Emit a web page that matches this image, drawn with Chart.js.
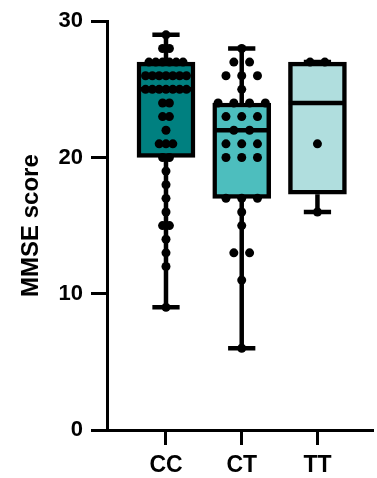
<!DOCTYPE html>
<html><head><meta charset="utf-8">
<script src="https://cdn.jsdelivr.net/npm/chart.js@4"></script>
<style>html,body{margin:0;padding:0;background:#fff}</style>
</head><body>
<canvas id="c" width="377" height="478"></canvas>
<script>
const categories = ['CC', 'CT', 'TT'];
const boxMin    = [9, 6, 16];
const boxQ1     = [20, 17, 17.3];
const boxMedian = [25, 22, 24];
const boxQ3     = [27, 24, 27];
const boxMax    = [29, 28, 27];
const ccScores = [29, 28, 28, 27, 27, 27, 27, 27, 27, 26, 26, 26, 26, 26, 26, 26,
  25, 25, 25, 25, 25, 25, 25, 24, 24, 23, 23, 22, 21, 21, 21, 20, 20, 19, 18, 17, 16,
  15, 15, 14, 13, 12, 9];
const ctScores = [28, 27, 27, 26, 26, 26, 25, 24, 24, 24, 24, 23, 23, 23, 22, 22, 21, 21, 21,
  20, 20, 20, 17, 17, 17, 16, 15, 13, 13, 11, 6];
const ttScores = [27, 27, 21, 16];
const yTicks = [0, 10, 20, 30];

const groupScores = [ccScores, ctScores, ttScores];
const fills = ['#008080', '#4DBEBE', '#B0DEDE'];
const dotSpacing = [0.09, 0.208, 0.195]; // in category units
const halfBox = 0.377, halfCap = 0.18;
const LW = 4.5;

const datasets = [];
datasets.push({
  type: 'bar',
  data: categories.map((c, i) => ({ x: i + 1, y: [boxQ1[i], boxQ3[i]] })),
  backgroundColor: fills,
  borderColor: '#000',
  borderWidth: LW,
  borderSkipped: false,
  barThickness: 58,
  order: 5
});
function seg(pts, order) {
  datasets.push({
    type: 'scatter', data: pts, showLine: true, borderColor: '#000', borderWidth: LW,
    pointRadius: 0, borderCapStyle: 'butt', order: order, spanGaps: false
  });
}
categories.forEach((c, i) => {
  const x = i + 1;
  seg([{ x: x, y: boxMin[i] }, { x: x, y: boxQ1[i] }], 6);
  seg([{ x: x, y: boxQ3[i] }, { x: x, y: boxMax[i] }], 6);
  seg([{ x: x - halfCap, y: boxMin[i] }, { x: x + halfCap, y: boxMin[i] }], 6);
  seg([{ x: x - halfCap, y: boxMax[i] }, { x: x + halfCap, y: boxMax[i] }], 6);
  seg([{ x: x - halfBox, y: boxMedian[i] }, { x: x + halfBox, y: boxMedian[i] }], 3);
  const counts = {};
  groupScores[i].forEach(v => counts[v] = (counts[v] || 0) + 1);
  const pts = [];
  Object.keys(counts).forEach(k => {
    const n = counts[k];
    for (let j = 0; j < n; j++) {
      pts.push({ x: x + (j - (n - 1) / 2) * dotSpacing[i], y: +k });
    }
  });
  datasets.push({
    type: 'scatter', data: pts, pointRadius: 4.5, pointBackgroundColor: '#000',
    pointBorderWidth: 0, borderWidth: 0, showLine: false, order: 1
  });
});

const fontFam = 'Arial, "Liberation Sans", sans-serif';
new Chart(document.getElementById('c'), {
  data: { datasets },
  options: {
    responsive: false,
    animation: false,
    events: [],
    layout: { padding: { top: 21, right: 0, left: 0, bottom: 0 } },
    plugins: { legend: { display: false }, tooltip: { enabled: false } },
    scales: {
      x: {
        type: 'linear', min: 0.221, max: 3.727, offset: false,
        afterBuildTicks: s => { s.ticks = categories.map((c, i) => ({ value: i + 1 })); },
        afterFit: s => { s.height = 48; },
        ticks: {
          callback: v => categories[Math.round(v) - 1] || '',
          color: '#000', padding: 7,
          font: { family: fontFam, size: 23, weight: 'bold' }, maxRotation: 0, autoSkip: false
        },
        grid: { display: true, offset: false, drawOnChartArea: false, drawTicks: true, tickLength: 15, lineWidth: 3, color: '#000' },
        border: { display: true, width: 3, color: '#000' }
      },
      y: {
        type: 'linear', min: 0, max: 30,
        afterBuildTicks: s => { s.ticks = yTicks.map(v => ({ value: v })); },
        afterFit: s => { s.width = 107; },
        ticks: {
          color: '#000', padding: 8,
          font: { family: fontFam, size: 22, weight: 'bold' }
        },
        title: {
          display: true, text: 'MMSE score', color: '#000',
          font: { family: fontFam, size: 24, weight: 'bold' },
          padding: { top: 17, bottom: 0 }
        },
        grid: { display: true, drawOnChartArea: false, drawTicks: true, tickLength: 16, lineWidth: 3, color: '#000' },
        border: { display: true, width: 3, color: '#000' }
      }
    }
  }
});
</script>
</body></html>
